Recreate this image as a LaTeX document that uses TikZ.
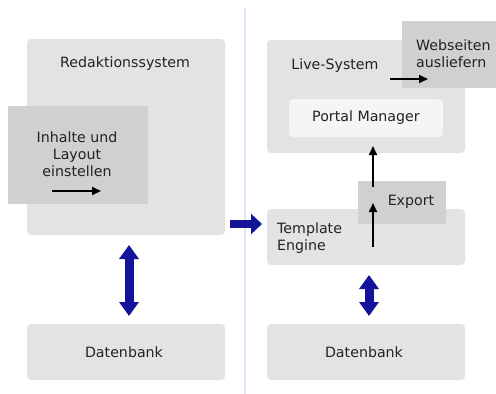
\documentclass[tikz,border=0pt]{standalone}
\usepackage{fontspec}
\setmainfont{DejaVu Sans}
\usetikzlibrary{arrows.meta}
\definecolor{boxgray}{HTML}{E3E3E5}
\definecolor{darkgray2}{HTML}{D0D0D0}
\definecolor{paleg}{HTML}{F5F5F5}
\definecolor{navy}{HTML}{14149A}
\definecolor{divider}{HTML}{DCE2FA}
\definecolor{txt}{HTML}{222222}
\begin{document}
\begin{tikzpicture}[x=1pt,y=-1pt,
  box/.style={fill=boxgray,draw=none,rounded corners=4pt,inner sep=0pt},
  darkbox/.style={fill=darkgray2,draw=none,inner sep=0pt},
  palebox/.style={fill=paleg,draw=none,rounded corners=4pt,inner sep=0pt},
  lbl/.style={text=txt,font=\fontsize{14.2}{17}\selectfont,inner sep=0pt,align=center},
  blackarrow/.style={draw=black,line width=1.8pt,-{Triangle[length=9pt,width=8pt]}},
  bluearrow/.style={draw=navy,line width=8pt,-{Triangle[length=11pt,width=20pt]}},
  bluedouble/.style={draw=navy,line width=9pt,{Triangle[length=14pt,width=19pt]}-{Triangle[length=14pt,width=19pt]}}
]
\useasboundingbox (0,0) rectangle (496,394);
\fill[white] (0,0) rectangle (496,394);
% divider
\draw[divider,line width=2pt] (245,8) coordinate (dtop) -- (245,394) coordinate (dbot);

% left side
\node[box,minimum width=198pt,minimum height=196pt] (red) at (126,137) {};
\node[lbl] (redt) at (125,64) {Redaktionssystem};
\node[darkbox,minimum width=140pt,minimum height=98pt] (inh) at (78,155) {};
\node[lbl] (inht) at (77,154) {Inhalte und\\Layout\\einstellen};
\coordinate (ia1) at (52,191);
\coordinate (ia2) at (101,191);
\draw[blackarrow] (ia1) -- (ia2);

\node[box,minimum width=198pt,minimum height=56pt] (db1) at (126,352) {};
\node[lbl] (db1t) at (124,352) {Datenbank};

% right side
\node[box,minimum width=198pt,minimum height=113pt] (live) at (366,96.5) {};
\node[lbl] (livet) at (335,66) {Live-System};
\node[darkbox,minimum width=94pt,minimum height=67pt] (web) at (449,54.5) {};
\node[lbl,align=left,anchor=west] (webt) at (416,53.5) {Webseiten\\ausliefern};
\coordinate (wa1) at (390,79);
\coordinate (wa2) at (428,79);
\draw[blackarrow] (wa1) -- (wa2);
\node[palebox,minimum width=154pt,minimum height=38pt] (pm) at (366,118) {};
\node[lbl] (pmt) at (366,118) {Portal Manager};

\node[box,minimum width=198pt,minimum height=56pt] (te) at (366,237) {};
\node[lbl,align=left,anchor=west] (tet) at (277,238) {Template\\Engine};
\node[darkbox,minimum width=88pt,minimum height=43pt] (ex) at (402,202.5) {};
\node[lbl] (ext) at (411,202) {Export};

\coordinate (ea1) at (373,247);
\coordinate (ea2) at (373,203);
\draw[blackarrow] (ea1) -- (ea2);
\coordinate (la1) at (373,187);
\coordinate (la2) at (373,146);
\draw[blackarrow] (la1) -- (la2);

\node[box,minimum width=198pt,minimum height=56pt] (db2) at (366,352) {};
\node[lbl] (db2t) at (364,352) {Datenbank};

% blue arrows
\coordinate (ha1) at (230,224);
\coordinate (ha2) at (262,224);
\draw[bluearrow] (ha1) -- (ha2);
\coordinate (va1) at (129,245);
\coordinate (va2) at (129,316);
\draw[bluedouble] (va1) -- (va2);
\coordinate (vb1) at (369,275);
\coordinate (vb2) at (369,316);
\draw[bluedouble] (vb1) -- (vb2);
\end{tikzpicture}
\end{document}
